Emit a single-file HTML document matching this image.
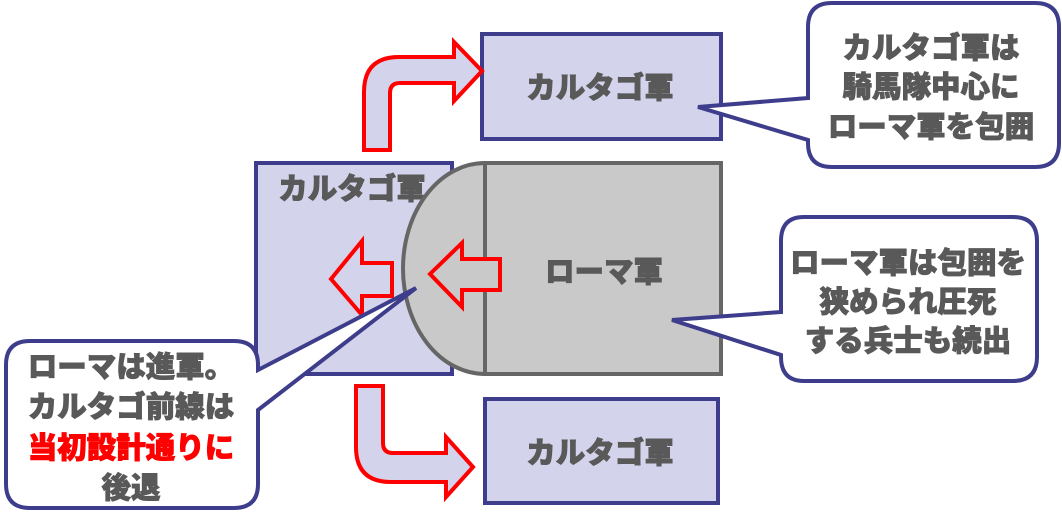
<!DOCTYPE html>
<html><head><meta charset="utf-8"><style>
html,body{margin:0;padding:0;background:#fff;}
svg{display:block;}
text{font-family:"Liberation Sans","Noto Sans CJK JP",sans-serif;font-weight:900;fill:#595959;stroke:#595959;stroke-width:0.9;}
</style></head><body>
<svg width="1062" height="524" viewBox="0 0 1062 524" xmlns="http://www.w3.org/2000/svg">
<rect x="482" y="34" width="239" height="105" fill="#d3d3eb" stroke="#3d3d8c" stroke-width="4"/>
<text x="600" y="98" font-size="29.5" text-anchor="middle">カルタゴ軍</text>
<rect x="485" y="399" width="233" height="104" fill="#d3d3eb" stroke="#3d3d8c" stroke-width="4"/>
<text x="600" y="463" font-size="29.5" text-anchor="middle">カルタゴ軍</text>
<rect x="256" y="163" width="196" height="211" fill="#d3d3eb" stroke="#3d3d8c" stroke-width="4"/>
<text x="352" y="199" font-size="29.5" text-anchor="middle">カルタゴ軍</text>
<path d="M485,163 A82,105.5 0 0 0 485,374 Z" fill="#c9c9c9" stroke="#666" stroke-width="4"/>
<rect x="485" y="163" width="236" height="211" fill="#c9c9c9" stroke="#666" stroke-width="4"/>
<text x="604" y="282" font-size="29.5" text-anchor="middle">ローマ軍</text>
<path d="M331,279 L362,241 L362,263 L392,263 L392,296 L362,296 L362,315 Z" fill="#d3d3eb" stroke="#f00" stroke-width="4"/>
<path d="M430,274 L462,243 L462,259 L500,259 L500,290 L462,290 L462,307 Z" fill="#c9c9c9" stroke="#f00" stroke-width="4"/>
<path d="M364,150 L364,92 Q364,57 399,57 L454,57 L454,42 L482,71 L454,101 L454,83 L400,83 Q390,83 390,93 L390,150 Z" fill="#d3d3eb" stroke="#f00" stroke-width="4"/>
<path d="M356,386 L356,447 Q356,482 391,482 L446,482 L446,497 L473,467 L446,437 L446,453 L393,453 Q383,453 383,443 L383,386 Z" fill="#d3d3eb" stroke="#f00" stroke-width="4"/>
<path d="M832,3 L1035,3 Q1059,3 1059,27 L1059,143 Q1059,167 1035,167 L832,167 Q808,167 808,143 L808,140 L698,107 L808,98 L808,27 Q808,3 832,3 Z" fill="#fff" stroke="#3d3d8c" stroke-width="4"/>
<text font-size="29.5" text-anchor="middle"><tspan x="931" y="58">カルタゴ軍は</tspan><tspan x="931" y="97">騎馬隊中心に</tspan><tspan x="931" y="137">ローマ軍を包囲</tspan></text>
<path d="M804,217 L1013,217 Q1037,217 1037,241 L1037,357 Q1037,381 1013,381 L804,381 Q781,381 781,357 L781,355 L672,320 L781,312 L781,241 Q781,217 804,217 Z" fill="#fff" stroke="#3d3d8c" stroke-width="4"/>
<text font-size="29.5" text-anchor="middle"><tspan x="908" y="273">ローマ軍は包囲を</tspan><tspan x="908" y="312">狭められ圧死</tspan><tspan x="908" y="351">する兵士も続出</tspan></text>
<path d="M30,341 L234,341 Q258,341 258,365 L258,370 L416,288 L258,410 L258,484 Q258,508 234,508 L30,508 Q6,508 6,484 L6,365 Q6,341 30,341 Z" fill="#fff" stroke="#3d3d8c" stroke-width="4"/>
<text font-size="29.5" text-anchor="middle"><tspan x="131" y="377">ローマは進軍。</tspan><tspan x="131" y="417">カルタゴ前線は</tspan><tspan x="131" y="458" style="fill:#f00;stroke:#f00">当初設計通りに</tspan><tspan x="131" y="498">後退</tspan></text>
</svg>
</body></html>
